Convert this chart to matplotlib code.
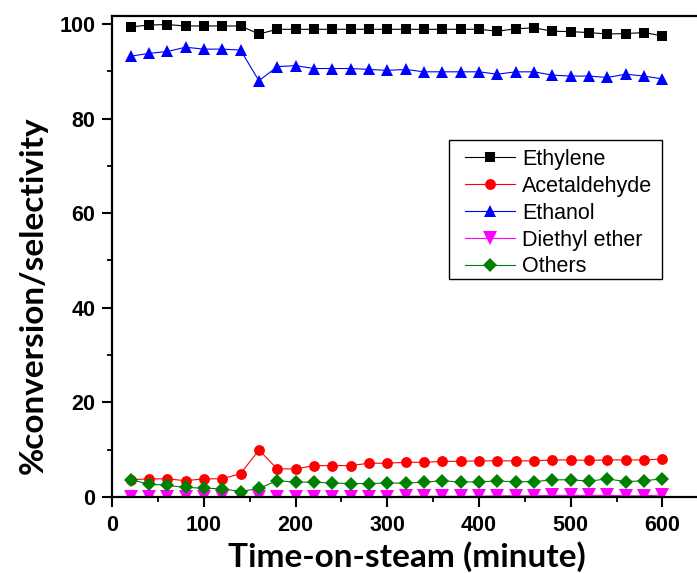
import matplotlib
matplotlib.use("Agg")
import matplotlib.pyplot as plt
from matplotlib.patches import Rectangle
from matplotlib.ticker import MultipleLocator

# time on stream, minutes
time_min = [20, 40, 60, 80, 100, 120, 140, 160, 180, 200,
            220, 240, 260, 280, 300, 320, 340, 360, 380, 400,
            420, 440, 460, 480, 500, 520, 540, 560, 580, 600]

ethylene = [99.4, 99.8, 99.9, 99.6, 99.6, 99.6, 99.6, 97.9, 98.9, 98.9,
            98.9, 98.9, 98.9, 98.9, 98.9, 98.9, 98.9, 98.9, 98.9, 98.9,
            98.5, 99.0, 99.2, 98.5, 98.4, 98.2, 97.9, 98.0, 98.2, 97.5]

acetaldehyde = [3.6, 3.8, 3.8, 3.4, 3.8, 3.8, 4.9, 9.9, 5.9, 5.9,
                6.6, 6.6, 6.6, 7.1, 7.1, 7.3, 7.3, 7.5, 7.5, 7.6,
                7.6, 7.6, 7.6, 7.8, 7.8, 7.7, 7.8, 7.8, 7.8, 8.0]

ethanol = [93.2, 93.8, 94.2, 95.1, 94.7, 94.7, 94.5, 88.0, 91.0, 91.2,
           90.6, 90.6, 90.6, 90.4, 90.2, 90.4, 89.9, 89.9, 89.9, 89.9,
           89.4, 89.9, 89.9, 89.2, 89.0, 89.0, 88.7, 89.4, 89.0, 88.4]

diethyl_ether = [0.0, 0.0, 0.0, 0.0, 0.0, 0.0, 0.0, 0.0, 0.0, 0.0,
                 0.0, 0.0, 0.0, 0.0, 0.0, 0.1, 0.1, 0.1, 0.1, 0.1,
                 0.2, 0.2, 0.2, 0.3, 0.3, 0.3, 0.3, 0.2, 0.2, 0.4]

others = [3.6, 2.7, 2.4, 2.0, 1.8, 1.7, 1.1, 1.8, 3.4, 3.1,
          3.1, 2.9, 2.8, 2.8, 2.9, 2.9, 3.1, 3.4, 3.1, 3.2,
          3.3, 3.2, 3.2, 3.6, 3.6, 3.3, 3.8, 3.2, 3.4, 3.8]

series_names = ["Ethylene", "Acetaldehyde", "Ethanol", "Diethyl ether", "Others"]
series_data = [ethylene, acetaldehyde, ethanol, diethyl_ether, others]
colors = ["black", "red", "blue", "magenta", "green"]
markers = ["s", "o", "^", "v", "D"]
marker_sizes = [7, 7.8, 8.8, 9.5, 6.8]

fig = plt.figure(figsize=(6.97, 5.73), dpi=100)
ax = fig.add_axes([0.161, 0.133, 0.842, 0.839])

for name, vals, col, mk, ms in zip(series_names, series_data, colors, markers, marker_sizes):
    ax.plot(time_min, vals, color=col, marker=mk, markersize=ms, linewidth=0.8,
            markeredgewidth=0, label=name)

ax.set_xlim(0, 640)
ax.set_ylim(0, 101.7)
ax.xaxis.set_major_locator(MultipleLocator(100))
ax.xaxis.set_minor_locator(MultipleLocator(50))
ax.yaxis.set_major_locator(MultipleLocator(20))
ax.yaxis.set_minor_locator(MultipleLocator(10))

for side in ["left", "bottom", "top"]:
    ax.spines[side].set_linewidth(1.6)
ax.spines["right"].set_visible(False)

ax.tick_params(which="major", direction="out", length=7.2, width=1.5)
ax.tick_params(which="minor", direction="out", length=3.6, width=1.3)
ax.tick_params(axis="x", which="major", pad=6)
ax.tick_params(axis="y", which="major", pad=5)
for lbl in ax.get_xticklabels() + ax.get_yticklabels():
    lbl.set_family(["Liberation Sans", "DejaVu Sans"])
    lbl.set_weight("bold")
    lbl.set_size(15.5)

# axis titles placed on the figure
label_kw = dict(family=["Lato", "DejaVu Sans"], weight="bold", size=24)
fig.text(407 / 697, 1 - 567 / 573, "Time-on-steam (minute)", ha="center",
         va="baseline", **label_kw)
fig.text(43 / 697, 1 - 295 / 573, "%conversion/selectivity", ha="center",
         va="baseline", rotation=90, rotation_mode="anchor", **label_kw)

# legend box drawn separately, entries inside it
ax_w = 0.842 * 697
ax_h = 0.839 * 573
x0, y0 = 112, 497
box = Rectangle(((449 - x0) / ax_w, (y0 - 279) / ax_h), (662 - 449) / ax_w,
                (279 - 140) / ax_h, transform=ax.transAxes, fill=True,
                facecolor="white", edgecolor="black", linewidth=1.0, zorder=4)
ax.add_patch(box)
leg = ax.legend(loc="upper left", bbox_to_anchor=((465 - x0) / ax_w, (y0 - 149) / ax_h),
                frameon=False, handlelength=2.3, labelspacing=0.275, borderpad=0,
                borderaxespad=0, handletextpad=0.35,
                prop=dict(family=["Liberation Sans", "DejaVu Sans"], size=15.5))
leg.set_zorder(5)

fig.savefig("out.png", dpi=100)
